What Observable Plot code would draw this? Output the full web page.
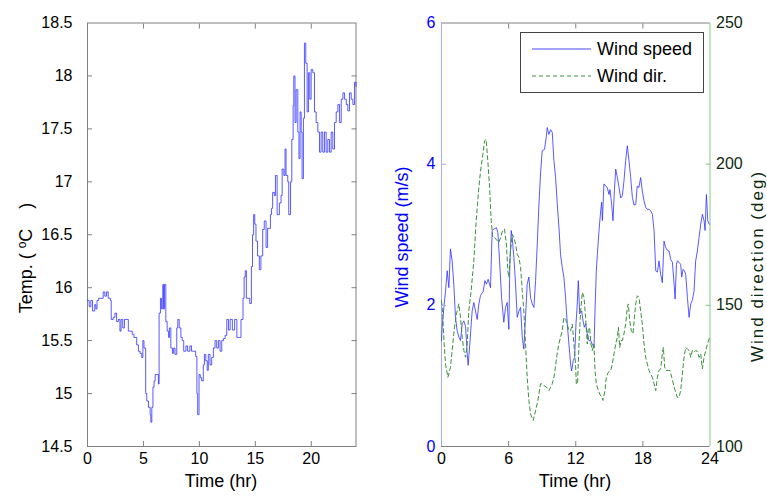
<!DOCTYPE html>
<html><head><meta charset="utf-8">
<script src="https://cdn.jsdelivr.net/npm/d3@7"></script>
<script src="https://cdn.jsdelivr.net/npm/@observablehq/plot@0.6"></script>
<style>
body{margin:0;background:#fff;}
#wrap{position:relative;width:767px;height:496px;font-family:"Liberation Sans",Arial,sans-serif;overflow:hidden;}
#wrap svg{position:absolute;left:0;top:0;}
.lbl{position:absolute;white-space:pre;font-size:18px;transform:translate(-50%,-50%);line-height:1;}
.rot{transform:translate(-50%,-50%) rotate(-90deg);}
#legend{position:absolute;left:520px;top:32px;width:182px;height:59px;border:1px solid #444;background:#fff;font-size:18px;}
#legend .row{position:absolute;left:0;height:20px;}
#legend span{position:absolute;left:76px;top:0;line-height:20px;white-space:pre;}
</style></head><body><div id="wrap"></div>
<script>
// ---- data ----
const tempTime = [0.00,0.15,0.30,0.45,0.65,0.75,0.85,1.00,1.20,1.40,1.55,1.70,1.85,2.05,2.12,2.30,2.45,2.60,2.75,2.90,3.00,3.15,3.30,3.45,3.65,3.80,4.00,4.15,4.40,4.55,4.70,4.85,4.95,5.05,5.20,5.30,5.45,5.60,5.66,5.75,5.85,5.95,6.05,6.20,6.34,6.40,6.52,6.62,6.73,6.80,6.88,7.00,7.12,7.25,7.32,7.45,7.59,7.70,7.82,7.98,8.07,8.20,8.35,8.47,8.60,8.80,8.95,9.15,9.30,9.50,9.67,9.78,9.85,9.97,10.08,10.20,10.35,10.45,10.57,10.70,10.80,10.95,11.10,11.25,11.40,11.55,11.70,11.85,12.00,12.15,12.30,12.45,12.60,12.75,12.95,13.15,13.35,13.60,13.72,13.90,14.00,14.10,14.20,14.35,14.50,14.65,14.75,14.85,14.95,15.06,15.20,15.36,15.50,15.66,15.80,15.96,16.10,16.35,16.45,16.55,16.70,16.80,16.95,17.15,17.30,17.40,17.55,17.66,17.75,17.90,17.99,18.15,18.26,18.38,18.44,18.55,18.65,18.80,18.90,19.00,19.10,19.18,19.30,19.39,19.51,19.63,19.75,19.87,19.99,20.14,20.29,20.44,20.59,20.74,20.88,21.03,21.18,21.33,21.48,21.63,21.78,21.93,22.08,22.23,22.38,22.53,22.68,22.83,22.98,23.13,23.27,23.42,23.57,23.72,23.87,24.00];
const tempValue = [15.88,15.82,15.88,15.78,15.84,15.80,15.88,15.90,15.90,15.96,15.92,15.96,15.90,15.88,15.70,15.72,15.76,15.68,15.70,15.59,15.70,15.62,15.70,15.70,15.59,15.59,15.56,15.53,15.46,15.40,15.38,15.34,15.50,15.43,15.00,14.93,14.87,14.80,14.73,14.87,15.06,15.12,15.18,15.18,15.09,15.76,15.90,15.80,16.03,15.80,16.03,15.68,15.59,15.53,15.62,15.43,15.38,15.43,15.37,15.62,15.70,15.62,15.53,15.50,15.40,15.45,15.40,15.45,15.40,15.40,15.35,15.00,14.80,15.18,15.15,15.12,15.27,15.37,15.31,15.22,15.37,15.27,15.34,15.43,15.50,15.43,15.50,15.40,15.50,15.52,15.55,15.70,15.60,15.70,15.60,15.70,15.53,15.53,15.70,15.90,16.10,16.16,15.90,15.90,15.85,16.20,16.50,16.69,16.60,16.44,16.30,16.17,16.30,16.55,16.63,16.38,16.56,16.69,16.75,16.90,16.87,17.06,16.69,16.80,16.87,17.12,17.06,17.31,17.06,17.00,16.69,17.00,17.40,17.72,18.00,17.56,17.87,17.47,17.22,17.66,17.47,17.03,17.60,18.31,18.12,17.66,18.03,17.78,18.06,18.03,17.66,17.56,17.47,17.28,17.47,17.28,17.47,17.28,17.40,17.28,17.47,17.31,17.56,17.66,17.73,17.56,17.78,17.84,17.78,17.73,17.67,17.84,17.78,17.73,17.94,17.90];

const speedTime = [0.00,0.06,0.21,0.36,0.51,0.66,0.80,0.95,1.10,1.25,1.40,1.55,1.70,1.85,2.00,2.15,2.30,2.38,2.53,2.74,2.89,3.04,3.19,3.34,3.49,3.73,3.88,4.02,4.17,4.38,4.53,4.68,4.92,5.04,5.19,5.37,5.57,5.72,5.87,6.02,6.11,6.23,6.32,6.47,6.62,6.77,6.92,7.07,7.22,7.36,7.51,7.66,7.81,7.96,8.11,8.26,8.41,8.56,8.71,8.85,9.00,9.21,9.36,9.45,9.60,9.75,9.90,10.05,10.20,10.35,10.50,10.64,10.79,10.94,11.09,11.24,11.39,11.54,11.63,11.78,11.90,12.02,12.10,12.23,12.35,12.53,12.65,12.77,12.88,13.03,13.18,13.33,13.48,13.63,13.72,13.84,13.93,14.08,14.23,14.32,14.38,14.52,14.67,14.82,14.97,15.06,15.21,15.33,15.45,15.57,15.72,15.87,16.02,16.16,16.31,16.46,16.61,16.76,16.91,17.06,17.21,17.36,17.50,17.65,17.80,17.95,18.10,18.25,18.40,18.55,18.70,18.85,19.00,19.15,19.30,19.44,19.59,19.74,19.89,20.04,20.19,20.34,20.49,20.64,20.79,20.88,21.00,21.08,21.23,21.38,21.47,21.59,21.71,21.83,21.98,22.13,22.28,22.42,22.57,22.72,22.87,23.02,23.17,23.32,23.47,23.56,23.68,23.80,23.92,24.00];
const speedValue = [1.50,1.69,1.97,2.20,2.49,2.25,2.80,2.63,2.30,1.83,1.64,1.55,1.50,1.74,1.78,1.70,1.31,1.15,1.45,1.92,2.04,1.92,1.80,2.02,2.14,2.20,2.35,2.30,2.37,2.25,3.06,3.08,3.10,3.03,2.63,2.11,1.76,1.97,2.04,1.66,2.58,3.06,2.96,2.68,2.30,1.83,1.92,1.97,1.55,1.38,1.83,2.30,2.40,2.11,2.02,1.97,2.35,2.87,3.43,3.86,4.19,4.21,4.38,4.52,4.42,4.49,4.45,4.05,3.81,3.43,3.10,2.72,2.54,2.40,2.11,1.74,1.45,1.17,1.07,1.22,1.26,1.74,1.92,2.35,1.88,1.92,1.78,1.69,1.74,1.60,1.50,1.50,1.45,1.40,1.92,2.49,2.72,3.06,3.34,3.46,3.20,3.72,3.69,3.67,3.57,3.64,3.43,3.20,3.62,3.93,3.81,3.67,3.52,3.55,3.76,4.05,4.26,4.05,3.81,3.53,3.42,3.43,3.69,3.67,3.81,3.62,3.48,3.39,3.36,3.36,3.34,3.29,3.06,2.49,2.47,2.63,2.44,2.32,2.91,2.82,2.78,2.77,2.65,2.61,2.30,2.09,2.58,2.63,2.61,2.58,2.40,2.51,2.49,2.44,2.11,1.83,2.02,2.07,2.20,2.63,2.77,2.96,3.15,3.29,3.20,3.06,3.57,3.20,3.15,3.15];

const dirTime = [0.00,0.09,0.24,0.36,0.57,0.80,1.01,1.16,1.34,1.55,1.70,1.85,2.00,2.15,2.30,2.44,2.65,2.89,3.10,3.34,3.49,3.70,3.85,3.99,4.14,4.30,4.44,4.59,4.74,4.98,5.13,5.28,5.46,5.63,5.80,5.93,6.02,6.17,6.32,6.47,6.62,6.77,6.92,7.07,7.22,7.36,7.51,7.66,7.81,7.96,8.20,8.41,8.62,8.85,9.00,9.15,9.39,9.60,9.90,10.11,10.29,10.49,10.79,10.94,11.09,11.24,11.39,11.54,11.69,11.84,11.98,12.05,12.16,12.29,12.44,12.59,12.74,12.88,13.03,13.12,13.24,13.36,13.48,13.63,13.72,13.84,14.02,14.14,14.32,14.43,14.61,14.73,14.91,15.12,15.27,15.42,15.57,15.72,15.81,15.93,16.05,16.17,16.31,16.46,16.61,16.70,16.82,16.97,17.12,17.24,17.36,17.50,17.65,17.80,17.95,18.10,18.25,18.40,18.55,18.70,18.85,19.00,19.15,19.30,19.44,19.59,19.74,19.83,19.95,20.10,20.28,20.43,20.58,20.80,20.93,21.08,21.23,21.38,21.53,21.68,21.83,21.98,22.13,22.28,22.42,22.57,22.72,22.87,23.02,23.17,23.32,23.47,23.62,23.77,23.92,24.00];
const dirValue = [151.6,148.0,136.3,129.2,124.5,128.0,136.3,142.2,147.0,150.5,145.7,138.7,134.0,131.6,136.3,148.0,155.2,165.8,180.0,191.7,197.6,203.5,208.2,208.8,201.2,191.7,180.0,174.0,174.0,172.9,172.3,174.0,176.4,177.0,171.7,162.2,159.9,169.3,175.2,174.0,171.7,168.1,167.0,163.4,155.2,148.0,136.3,124.5,116.3,111.5,109.2,112.7,116.3,122.2,122.2,121.6,121.0,119.8,122.2,125.7,131.6,136.3,141.0,145.7,145.1,143.4,141.0,141.0,143.4,136.3,129.2,122.2,122.2,136.3,148.0,154.6,152.8,145.7,136.3,141.0,142.2,136.3,134.0,136.3,126.9,122.2,119.8,118.6,117.4,116.3,119.8,124.5,126.3,126.9,129.2,132.8,136.3,138.7,142.2,135.1,137.5,137.5,139.9,143.4,149.3,150.5,144.6,141.0,139.9,145.7,150.5,153.4,152.8,148.0,143.4,136.3,131.6,129.2,126.9,125.7,124.5,122.2,119.8,124.5,126.9,127.5,132.8,135.1,128.0,126.9,126.9,126.9,124.5,121.0,119.2,117.4,117.4,119.8,125.7,131.6,135.1,134.5,134.0,131.6,134.0,133.4,134.0,133.7,131.6,132.8,127.5,131.6,134.0,136.3,138.1,138.7];

const leftXTicks = [0, 5, 10, 15, 20];
const leftYTicks = [14.5, 15, 15.5, 16, 16.5, 17, 17.5, 18, 18.5];
const rightXTicks = [0, 6, 12, 18, 24];
const speedTicks = [0, 2, 4, 6];
const dirTicks = [100, 150, 200, 250];
const seriesNames = ["Wind speed", "Wind dir."];
const axisTitles = {time: "Time (hr)", speed: "Wind speed (m/s)", dir: "Wind direction (deg)"};

// ---- build ----
const temp = tempTime.map((t, i) => ({t, v: tempValue[i]}));
const speed = speedTime.map((t, i) => ({t, v: speedValue[i]}));
const dir = dirTime.map((t, i) => ({t, v: dirValue[i]}));

const W = 767, H = 496, TK = 5;
const style = {fontFamily: "'Liberation Sans', Arial, sans-serif", fontSize: "16px", background: "transparent", overflow: "visible"};
const GRAY = "#808080", BLUE = "#3030ff", GREEN = "#3c8f3c", BLUEAX = "#a8a8ff", GREENAX = "#8cc58c", DKGREEN = "#0e2a0e";
const common = {width: W, height: H, marginTop: 22.5, marginBottom: 50, style};
const fmt = d => String(d);
const none = () => "";

// inward tick helpers (ticks drawn outward then shifted back inside the frame)
const inX = (anchor, ticks, stroke) => Plot.axisX({anchor, ticks, tickSize: TK, tickFormat: none, label: null, stroke, dy: anchor === "bottom" ? -TK : TK});
const inY = (anchor, ticks, stroke) => Plot.axisY({anchor, ticks, tickSize: TK, tickFormat: none, label: null, stroke, dx: anchor === "left" ? TK : -TK});

const left = Plot.plot({
  ...common, marginLeft: 87, marginRight: W - 355.5,
  x: {domain: [0, 24]}, y: {domain: [14.5, 18.5]},
  marks: [
    Plot.frame({stroke: GRAY}),
    Plot.line(temp, {x: "t", y: "v", curve: "step-after", stroke: BLUE, strokeWidth: 0.8}),
    Plot.axisX({anchor: "bottom", ticks: leftXTicks, tickSize: 0, tickPadding: 6, label: null, color: "black", tickFormat: fmt}),
    inX("bottom", leftXTicks.slice(1), GRAY),
    inX("top", leftXTicks.slice(1), GRAY),
    Plot.axisY({anchor: "left", ticks: leftYTicks, tickSize: 0, tickPadding: 15, label: null, color: "black", tickFormat: fmt}),
    inY("left", leftYTicks.slice(1, -1), GRAY),
    inY("right", leftYTicks.slice(1, -1), GRAY)
  ]
});

const rightA = Plot.plot({
  ...common, marginLeft: 441, marginRight: W - 709.5,
  x: {domain: [0, 24]}, y: {domain: [0, 6]},
  marks: [
    Plot.ruleY([0, 6], {stroke: GRAY}),
    Plot.ruleX([0], {stroke: BLUEAX}),
    Plot.line(speed, {x: "t", y: "v", stroke: BLUE, strokeWidth: 0.8}),
    Plot.axisX({anchor: "bottom", ticks: rightXTicks, tickSize: 0, tickPadding: 6, label: null, color: "black", tickFormat: fmt}),
    inX("bottom", rightXTicks.slice(1, 4), GRAY),
    inX("top", rightXTicks.slice(1, 4), GRAY),
    Plot.axisY({anchor: "left", ticks: speedTicks, tickSize: 0, tickPadding: 6, label: null, color: "#0000ff", tickFormat: fmt}),
    inY("left", speedTicks.slice(1, 3), BLUEAX)
  ]
});

const rightB = Plot.plot({
  ...common, marginLeft: 441, marginRight: W - 709.5,
  x: {domain: [0, 24], axis: null}, y: {domain: [100, 250], axis: null},
  marks: [
    Plot.ruleX([24], {stroke: GREENAX}),
    Plot.line(dir, {x: "t", y: "v", stroke: GREEN, strokeWidth: 1, strokeDasharray: "4,3"}),
    Plot.axisY({anchor: "right", ticks: dirTicks, tickSize: 0, tickPadding: 6, label: null, color: DKGREEN, tickFormat: fmt}),
    inY("right", dirTicks.slice(1, 3), GREENAX)
  ]
});

const wrap = document.getElementById("wrap");
wrap.append(left, rightA, rightB);

function addLabel(html, cx, cy, rot, color, extra) {
  const d = document.createElement("div");
  d.className = "lbl" + (rot ? " rot" : "");
  d.style.left = cx + "px"; d.style.top = cy + "px";
  if (color) d.style.color = color;
  if (extra) Object.assign(d.style, extra);
  d.innerHTML = html;
  wrap.appendChild(d);
}
addLabel(axisTitles.time, 221, 481, false, "black");
addLabel(axisTitles.time, 575, 481, false, "black");
addLabel('Temp. (&nbsp;<sup style="font-size:12px;vertical-align:6px">o</sup>C<span style="display:inline-block;width:20px"></span>)', 25, 258, true, "black");
addLabel(axisTitles.speed, 402, 237, true, "#0000ff");
addLabel(axisTitles.dir, 757, 266, true, DKGREEN, {letterSpacing: "2px", fontSize: "17px"});

const lg = document.createElement("div");
lg.id = "legend";
lg.innerHTML = `
<div class="row" style="top:6px;width:182px"><svg width="70" height="20" style="position:absolute;left:11px;top:0"><line x1="0" x2="59" y1="10" y2="10" stroke="${BLUE}" stroke-width="0.9"/></svg><span>${seriesNames[0]}</span></div>
<div class="row" style="top:33px;width:182px"><svg width="70" height="20" style="position:absolute;left:11px;top:0"><line x1="0" x2="59" y1="10" y2="10" stroke="${GREEN}" stroke-width="1" stroke-dasharray="4,3"/></svg><span>${seriesNames[1]}</span></div>`;
wrap.appendChild(lg);
</script>
</body></html>
